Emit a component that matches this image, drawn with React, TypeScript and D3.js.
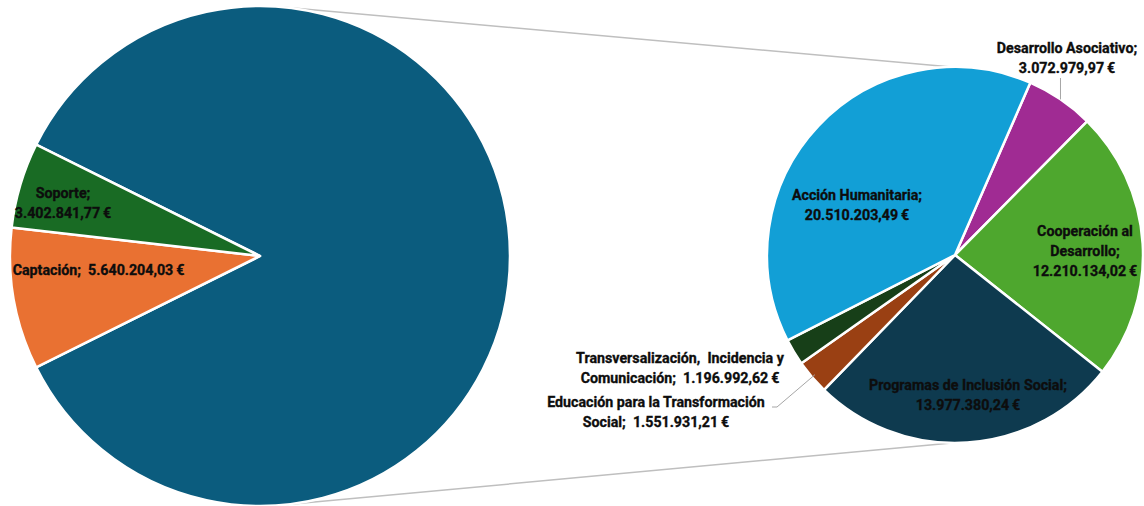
import { useEffect } from 'react';
import * as d3 from 'd3';

// primary pie (left)
const mainNames = ['Otros', 'Captación', 'Soporte'];
const mainValues = [52519621.55, 5640204.03, 3402841.77];
const mainColors = ['#0b5c7e', '#e97132', '#196b24'];

// secondary pie (right) – breakdown of "Otros"
const subNames = [
  'Desarrollo Asociativo',
  'Cooperación al Desarrollo',
  'Programas de Inclusión Social',
  'Educación para la Transformación Social',
  'Transversalización, Incidencia y Comunicación',
  'Acción Humanitaria',
];
const subValues = [3072979.97, 12210134.02, 13977380.24, 1551931.21, 1196992.62, 20510203.49];
const subColors = ['#a02b93', '#4ea72e', '#0e3a4f', '#9a4013', '#173f18', '#129fd6'];

// label line breaks as they appear in the chart
const mainLabelLines: Record<string, string[]> = {
  Soporte: ['Soporte;', '@'],
  Captación: ['Captación;  @'],
};
const subLabelLines: Record<string, string[]> = {
  'Desarrollo Asociativo': ['Desarrollo Asociativo;', '@'],
  'Cooperación al Desarrollo': ['Cooperación al', 'Desarrollo;', '@'],
  'Programas de Inclusión Social': ['Programas de Inclusión Social;', '@'],
  'Educación para la Transformación Social': ['Educación para la Transformación', 'Social;  @'],
  'Transversalización, Incidencia y Comunicación': ['Transversalización,  Incidencia y', 'Comunicación;  @'],
  'Acción Humanitaria': ['Acción Humanitaria;', '@'],
};

const W = 1144;
const H = 506;
const FONT = "'Roboto', 'Liberation Sans', sans-serif";

const euro = (v: number) => {
  const [i, d] = v.toFixed(2).split('.');
  return i.replace(/\B(?=(\d{3})+(?!\d))/g, '.') + ',' + d + '\u2009€';
};

export default function App() {
  useEffect(() => {
    document.body.style.margin = '0';
  }, []);

  // geometry
  const c1 = { x: 260, y: 256, r: 250 };
  const c2 = { x: 955, y: 255, r: 188 };

  const otherShare = mainValues[0] / d3.sum(mainValues);
  const otherAngle = otherShare * Math.PI * 2;
  const mainStart = Math.PI / 2 - otherAngle / 2;
  const mainPie = d3.pie<number>().sort(null).startAngle(mainStart).endAngle(mainStart + Math.PI * 2);
  const mainArcs = mainPie(mainValues);

  const subStart = (23.6 * Math.PI) / 180;
  const subPie = d3.pie<number>().sort(null).startAngle(subStart).endAngle(subStart + Math.PI * 2);
  const subArcs = subPie(subValues);

  const arc1 = d3.arc<d3.PieArcDatum<number>>().innerRadius(0).outerRadius(c1.r);
  const arc2 = d3.arc<d3.PieArcDatum<number>>().innerRadius(0).outerRadius(c2.r);

  // label anchors (centre of the text block) relative to pie centres
  const mainLabelPos: Record<string, [number, number]> = {
    Soporte: [-197, -53.5],
    Captación: [-161.5, 14],
  };
  const subLabelPos: Record<string, [number, number]> = {
    'Desarrollo Asociativo': [112, -197],
    'Cooperación al Desarrollo': [130, -4],
    'Programas de Inclusión Social': [13, 140],
    'Educación para la Transformación Social': [-299, 156.5],
    'Transversalización, Incidencia y Comunicación': [-275, 113],
    'Acción Humanitaria': [-98, -50],
  };

  const pt = (c: { x: number; y: number }, r: number, a: number) => [c.x + r * Math.sin(a), c.y - r * Math.cos(a)];
  const topL = pt(c1, c1.r, (5 * Math.PI) / 180);
  const botL = pt(c1, c1.r, (175 * Math.PI) / 180);
  const topR = pt(c2, c2.r, (-1 * Math.PI) / 180);
  const botR = pt(c2, c2.r, (181 * Math.PI) / 180);

  const renderLabel = (lines: string[], value: number, x: number, y: number, key: string) => {
    const lh = 20;
    const y0 = -((lines.length - 1) * lh) / 2;
    return (
      <text
        key={key}
        transform={`translate(${x},${y}) scale(0.95,1)`}
        textAnchor="middle"
        fontFamily={FONT}
        fontWeight={700}
        fontSize={15}
        fill="#0d0d0d"
        stroke="#0d0d0d"
        strokeWidth={0.35}
        style={{ whiteSpace: 'pre' }}
      >
        {lines.map((l, i) => (
          <tspan key={i} x={0} y={y0 + i * lh} dominantBaseline="central">
            {l.replace('@', euro(value))}
          </tspan>
        ))}
      </text>
    );
  };

  // leader lines for labels placed outside the slices
  const daMid = (subArcs[0].startAngle + subArcs[0].endAngle) / 2;
  const daP = pt(c2, c2.r, daMid);
  const edMid = (subArcs[3].startAngle + subArcs[3].endAngle) / 2;
  const edP = pt(c2, c2.r * 0.98, edMid);

  return (
    <svg width={W} height={H} style={{ display: 'block', background: '#fff' }}>
      <line x1={topL[0]} y1={topL[1]} x2={topR[0]} y2={topR[1]} stroke="#bfbfbf" strokeWidth={1.5} />
      <line x1={botL[0]} y1={botL[1]} x2={botR[0]} y2={botR[1]} stroke="#bfbfbf" strokeWidth={1.5} />

      <g transform={`translate(${c1.x},${c1.y})`}>
        {mainArcs.map((a, i) => (
          <path key={i} d={arc1(a) || ''} fill={mainColors[i]} stroke="#fff" strokeWidth={2.5} strokeLinejoin="round" />
        ))}
      </g>
      <g transform={`translate(${c2.x},${c2.y})`}>
        {subArcs.map((a, i) => (
          <path key={i} d={arc2(a) || ''} fill={subColors[i]} stroke="#fff" strokeWidth={2.5} strokeLinejoin="round" />
        ))}
      </g>

      <polyline points={`${daP[0]},${daP[1]} ${daP[0]},78`} fill="none" stroke="#a6a6a6" strokeWidth={1} />
      <polyline points={`${edP[0]},${edP[1]} 777,407 772,407`} fill="none" stroke="#a6a6a6" strokeWidth={1} />

      {mainNames.map((n, i) => {
        const p = mainLabelPos[n];
        if (!p) return null;
        return renderLabel(mainLabelLines[n], mainValues[i], c1.x + p[0], c1.y + p[1], 'm' + i);
      })}
      {subNames.map((n, i) => {
        const p = subLabelPos[n];
        return renderLabel(subLabelLines[n], subValues[i], c2.x + p[0], c2.y + p[1], 's' + i);
      })}
    </svg>
  );
}
